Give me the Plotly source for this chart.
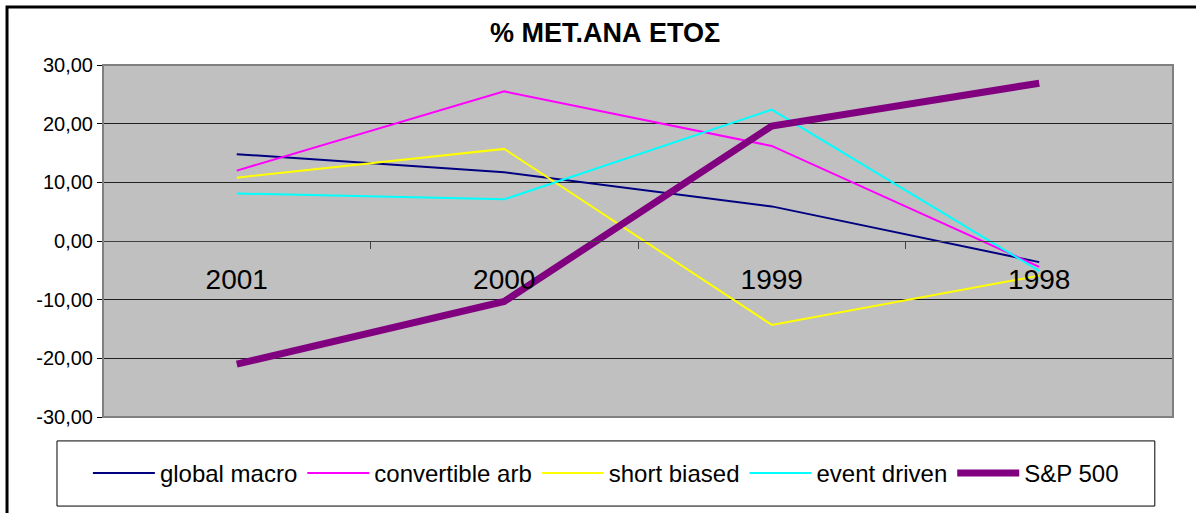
import plotly.graph_objects as go

YEARS = ["2001", "2000", "1999", "1998"]

GLOBAL_MACRO = [14.8, 11.7, 5.9, -3.6]
CONVERTIBLE_ARB = [12.0, 25.5, 16.2, -4.4]
SHORT_BIASED = [10.8, 15.7, -14.3, -5.9]
EVENT_DRIVEN = [8.1, 7.1, 22.4, -5.1]
SP500 = [-21.0, -10.3, 19.6, 26.9]

Y_TICKS = [-30, -20, -10, 0, 10, 20, 30]
Y_TICK_LABELS = ["-30,00", "-20,00", "-10,00", "0,00", "10,00", "20,00", "30,00"]

FONT = "Liberation Sans, Arial, sans-serif"

series = [
    ("global macro", GLOBAL_MACRO, "#000080", 2),
    ("convertible arb", CONVERTIBLE_ARB, "#FF00FF", 2),
    ("short biased", SHORT_BIASED, "#FFFF00", 2),
    ("event driven", EVENT_DRIVEN, "#00FFFF", 2),
    ("S&P 500", SP500, "#800080", 7),
]

fig = go.Figure()
for name, values, color, width in series:
    fig.add_trace(
        go.Scatter(
            x=YEARS,
            y=values,
            name=name,
            mode="lines",
            line=dict(color=color, width=width),
        )
    )

fig.update_layout(
    width=1196,
    height=513,
    paper_bgcolor="white",
    plot_bgcolor="#C0C0C0",
    margin=dict(l=103, r=23, t=65, b=96),
    font=dict(family=FONT, color="black"),
    title=dict(
        text="<b>% ΜΕΤ.ΑΝΑ ΕΤΟΣ</b>",
        x=0.506,
        xanchor="center",
        y=1 - 33 / 513,
        yanchor="middle",
        font=dict(size=27, family=FONT, color="black"),
    ),
    showlegend=True,
    legend=dict(
        orientation="h",
        x=0.47,
        xanchor="center",
        y=-0.1605,
        yanchor="middle",
        font=dict(size=24, family=FONT),
        bgcolor="rgba(0,0,0,0)",
        itemwidth=62,
        tracegroupgap=0,
    ),
    xaxis=dict(
        type="category",
        anchor="free",
        position=0.5,
        showline=True,
        linecolor="#404040",
        linewidth=1,
        ticks="outside",
        tickson="boundaries",
        ticklen=7,
        tickcolor="#404040",
        showgrid=False,
        tickfont=dict(size=28, family=FONT),
        ticklabelstandoff=13,
        range=[-0.5, 3.5],
    ),
    yaxis=dict(
        range=[-30, 30],
        tickvals=Y_TICKS,
        ticktext=Y_TICK_LABELS,
        ticks="outside",
        ticklen=5,
        tickcolor="black",
        showgrid=True,
        gridcolor="#202020",
        gridwidth=1,
        zeroline=False,
        showline=False,
        tickfont=dict(size=20, family=FONT),
    ),
    shapes=[
        # plot area frame
        dict(
            type="rect", xref="paper", yref="paper",
            x0=0, x1=1, y0=0, y1=1,
            line=dict(color="#808080", width=2),
        ),
        # legend box
        dict(
            type="rect", xref="paper", yref="paper",
            x0=-0.043, x1=0.983, y0=-0.253, y1=-0.068,
            line=dict(color="black", width=1),
        ),
        # outer chart border
        dict(
            type="rect", xref="paper", yref="paper",
            x0=-0.0897, x1=1.2, y0=-0.6, y1=1.1648,
            line=dict(color="black", width=3),
        ),
    ],
)

fig.write_html(
    "out.html",
    config={"displayModeBar": False},
    post_script="document.body.style.margin = '0';",
)
